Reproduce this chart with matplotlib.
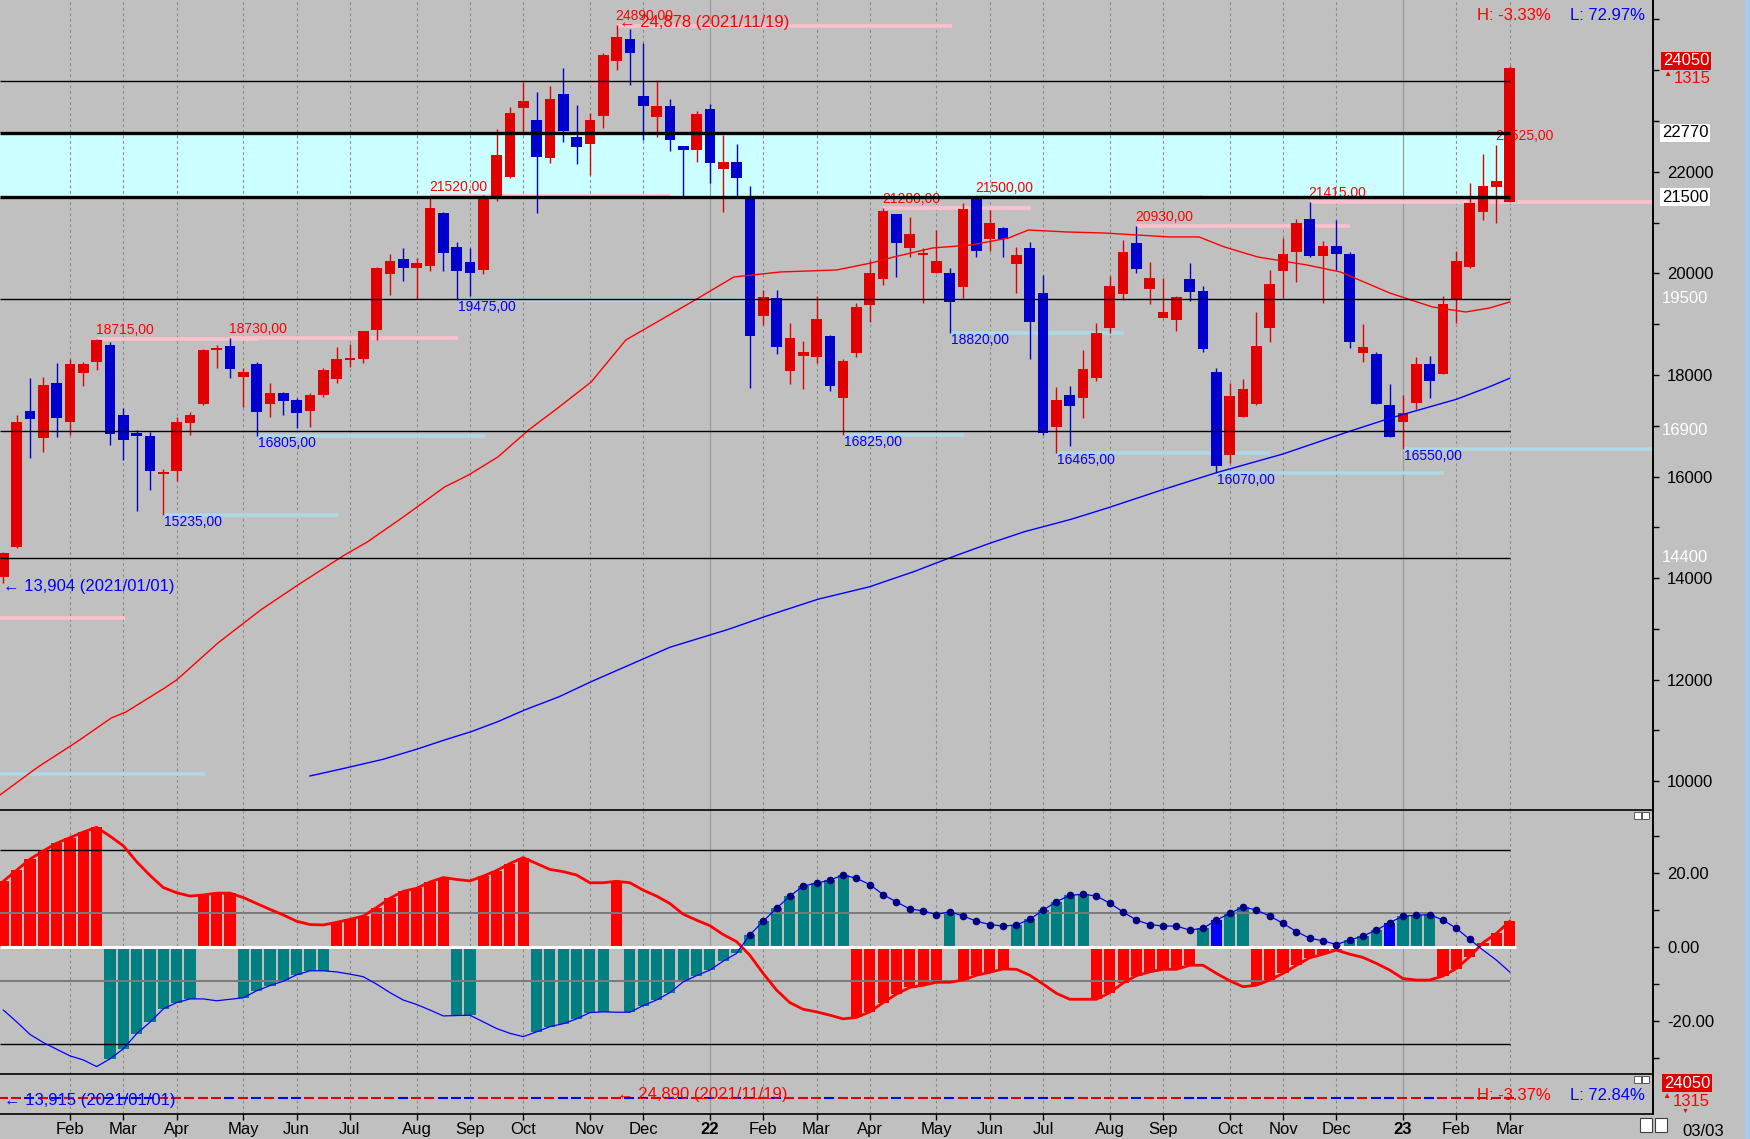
import matplotlib
matplotlib.use('Agg')
import matplotlib.pyplot as plt
from matplotlib.patches import Rectangle
import numpy as np
import pandas as pd

plt.rcParams['font.family'] = ['Liberation Sans', 'DejaVu Sans']
NARROW = ['Liberation Sans Narrow', 'Liberation Sans', 'DejaVu Sans']

W, H = 1750, 1139
BG = '#c0c0c0'
C_UP, C_DN = '#e00000', '#0000cd'

# weekly candles from 2021-01-01 to 2023-03-03
opens = [14030, 14620, 17290, 16760, 17835, 17080, 18045, 18260, 18590, 17210,
         16850, 16800, 16050, 16115, 17060, 17430, 18495, 18570, 17965, 18215,
         17430, 17640, 17505, 17295, 17605, 17920, 18295, 18315, 18885, 19990,
         20285, 20110, 20145, 21195, 20520, 20225, 20065, 21465, 21895, 23260,
         23020, 22275, 23530, 22685, 22555, 23090, 24185, 24610, 23490, 23085,
         23295, 22515, 22430, 23235, 22060, 22185, 21465, 19165, 19510, 18085,
         18380, 18360, 18770, 17540, 18440, 19380, 19895, 21170, 20505, 20360,
         20015, 20000, 19740, 21465, 20685, 20890, 20185, 20505, 19610, 16980,
         17600, 17555, 17945, 18915, 19590, 20595, 19695, 19130, 19080, 19885,
         19655, 18065, 16415, 17180, 17430, 18930, 20055, 20415, 21070, 20350,
         20540, 20380, 18440, 18415, 17410, 17080, 17455, 18215, 18020, 19490,
         20130, 21215, 21710, 21415]
highs = [14510, 17210, 17935, 17965, 18230, 18315, 18260, 18715, 18655, 17345,
         16915, 16885, 16145, 17180, 17275, 18510, 18590, 18730, 18135, 18250,
         17835, 17670, 17540, 17640, 18135, 18545, 18605, 18870, 20130, 20380,
         20495, 20300, 21520, 21215, 20620, 20495, 21545, 22845, 23275, 23775,
         23570, 23685, 24045, 23315, 23150, 24335, 24890, 24810, 24535, 23805,
         23430, 22515, 23200, 23335, 22725, 22550, 21720, 19675, 19675, 19030,
         18675, 19560, 18795, 18320, 19425, 20265, 21280, 21170, 21105, 20505,
         20855, 20110, 21380, 21500, 21250, 20920, 20525, 20610, 19960, 17755,
         17775, 18490, 19030, 19950, 20660, 20930, 20220, 19915, 19545, 20210,
         19755, 18130, 17835, 17920, 19245, 20065, 20690, 21065, 21415, 20645,
         21050, 20415, 19005, 18460, 17825, 17605, 18350, 18375, 19560, 20445,
         21785, 22350, 22525, 24080]
lows = [13904, 14600, 16370, 16490, 16785, 16820, 17785, 18100, 16620, 16325,
        15330, 15735, 15235, 15920, 16820, 17400, 18135, 17940, 17375, 16805,
        17165, 17210, 16950, 16980, 17570, 17835, 18165, 18240, 18690, 19575,
        19850, 19495, 20055, 20055, 19475, 19560, 19990, 21425, 21880, 22790,
        21195, 22180, 22595, 22160, 21935, 22855, 24005, 23710, 22625, 22690,
        22415, 21510, 22200, 21785, 21215, 21510, 17750, 18985, 18415, 17815,
        17720, 18230, 17690, 16825, 18350, 19050, 19770, 19935, 20330, 19425,
        20015, 18820, 19510, 20315, 20445, 20315, 19605, 18320, 16810, 16465,
        16605, 17145, 17885, 18820, 19475, 20000, 19395, 19130, 18870, 19455,
        18445, 16070, 16260, 17180, 17410, 18655, 19520, 19835, 20315, 19410,
        20065, 18525, 18260, 17420, 16780, 16550, 17330, 17555, 18020, 19030,
        20100, 21050, 21000, 21400]
closes = [14490, 17080, 17130, 17805, 17160, 18215, 18215, 18690, 16830, 16720,
          16790, 16115, 16095, 17080, 17210, 18490, 18510, 18115, 18055, 17275,
          17640, 17495, 17245, 17605, 18100, 18315, 18335, 18865, 20110, 20245,
          20110, 20205, 21280, 20410, 20055, 20015, 21525, 22330, 23155, 23390,
          22295, 23430, 22800, 22495, 23020, 24300, 24660, 24335, 23300, 23295,
          22625, 22430, 23130, 22180, 22185, 21885, 18775, 19535, 18555, 18730,
          18460, 19100, 17790, 18280, 19345, 20000, 21235, 20605, 20775, 20395,
          20245, 19445, 21270, 20445, 20985, 20685, 20360, 19050, 16850, 17505,
          17395, 18110, 18820, 19755, 20415, 20095, 19915, 19235, 19540, 19640,
          18510, 16215, 17590, 17725, 18580, 19790, 20380, 20985, 20350, 20545,
          20375, 18645, 18545, 17430, 16785, 17245, 18215, 17890, 19395, 20245,
          21380, 21720, 21820, 24050]

# moving averages (week index, price)
ma_red_weeks = [-0.25, 2.6, 5.5, 8.1, 9.2, 12.1, 13.0, 16.1, 19.3, 22.1, 25.6, 27.3,
                29.9, 33.1, 34.9, 37.1, 39.4, 41.4, 44.1, 46.7, 51.9, 54.8, 58.3,
                62.5, 65.1, 66.8, 69.7, 72.6, 75.4, 76.9, 79.8, 82.6, 87.5, 89.7,
                91.6, 94.1, 97.8, 100.3, 104.0, 107.2, 109.7, 111.5, 113.0]
ma_red_vals = [9730, 10281, 10773, 11246, 11364, 11836, 11994, 12722, 13372, 13865,
               14455, 14711, 15184, 15794, 16030, 16385, 16916, 17310, 17862, 18689,
               19477, 19929, 20028, 20067, 20205, 20323, 20500, 20559, 20697, 20854,
               20815, 20795, 20717, 20717, 20520, 20323, 20165, 20028, 19614, 19339,
               19240, 19319, 19437]
ma_blue_weeks = [23.0, 25.6, 28.5, 31.0, 33.1, 35.1, 37.1, 39.1, 41.7, 44.1, 50.0,
                 54.4, 57.1, 61.1, 65.0, 68.3, 70.9, 74.0, 76.6, 80.1, 82.9, 86.9,
                 91.0, 96.0, 100.9, 104.0, 105.3, 109.0, 111.5, 113.0]
ma_blue_vals = [10104, 10256, 10433, 10630, 10813, 10977, 11174, 11403, 11665, 11961,
                12638, 12992, 13240, 13583, 13831, 14127, 14390, 14686, 14914, 15158,
                15387, 15735, 16076, 16444, 16883, 17147, 17245, 17521, 17769, 17935]

# horizontal levels
levels = [23790, 22770, 21500, 19500, 16900, 14400]
level_thick = [False, True, True, False, False, False]
band_lo, band_hi = 21500, 22770

pink_levels = [24878, 18715, 18730, 21520, 21280, 21500, 20930, 21415, 13210]
pink_from = [46, 7, 17, 32, 66, 73, 85, 98, -0.25]
pink_to = [71.2, 19.1, 34.1, 50, 77.1, 90, 101, 123.75, 9.1]
sky_levels = [19475, 16805, 15235, 10144, 16825, 18820, 16465, 16550, 16070]
sky_from = [34, 19, 12, -0.25, 63, 71, 79, 105, 91]
sky_to = [57, 36.1, 25.2, 15.1, 72.1, 84.1, 95, 123.75, 108.1]

high_marks = [(7, 18715), (17, 18730), (32, 21520), (46, 24890), (66, 21280),
              (73, 21500), (85, 20930), (98, 21415), (112, 22525)]
low_marks = [(12, 15235), (19, 16805), (34, 19475), (63, 16825), (71, 18820),
             (79, 16465), (91, 16070), (105, 16550)]

# oscillator panel
osc_red = [17.7, 20.7, 23.7, 25.9, 28.0, 29.5, 31.0, 32.3, 29.9, 27.3,
           23.0, 19.3, 16.0, 14.6, 13.7, 14.0, 14.5, 14.5, 13.3, 11.7,
           10.1, 8.6, 6.9, 6.0, 5.9, 6.6, 7.4, 8.3, 10.6, 13.1,
           15.0, 15.8, 17.5, 18.7, 18.2, 17.8, 19.1, 20.6, 22.5, 24.1,
           22.5, 20.9, 20.3, 19.4, 17.3, 17.3, 17.7, 17.3, 15.3, 13.7,
           11.7, 8.8, 7.2, 5.7, 3.3, 1.4, -2.3, -7.2, -11.7, -15.1,
           -16.9, -17.6, -18.5, -19.5, -19.1, -17.6, -15.1, -12.8, -11.0, -10.4,
           -9.6, -9.6, -9.0, -7.7, -6.9, -6.0, -6.1, -7.7, -10.1, -12.6,
           -14.2, -14.2, -14.2, -12.4, -9.8, -7.8, -6.8, -6.1, -6.1, -5.0,
           -5.0, -7.2, -9.2, -10.8, -10.4, -9.0, -7.2, -5.0, -3.0, -2.0,
           -0.9, -2.0, -2.9, -4.5, -6.3, -8.6, -9.0, -9.0, -7.9, -5.9,
           -2.7, 1.1, 3.6, 6.9]
osc_blue = [-17.1, -20.3, -23.7, -25.9, -27.7, -29.5, -30.6, -32.4, -30.3, -27.6,
            -23.5, -20.4, -16.8, -15.1, -14.1, -14.1, -14.6, -14.2, -13.8, -11.9,
            -10.5, -9.3, -7.6, -6.5, -6.5, -6.8, -7.4, -8.1, -10.1, -12.4,
            -14.4, -15.6, -17.1, -18.7, -18.6, -18.5, -20.3, -22.1, -23.4, -24.3,
            -23.0, -21.6, -20.8, -19.5, -17.8, -17.6, -17.7, -17.7, -15.9, -14.4,
            -12.4, -9.5, -7.8, -6.3, -3.9, -1.8, 3.2, 6.9, 10.4, 13.7,
            16.4, 17.2, 18.0, 19.4, 18.5, 16.8, 14.1, 12.1, 10.2, 9.7,
            8.7, 9.5, 8.3, 6.9, 6.0, 5.6, 5.9, 7.4, 9.9, 12.2,
            13.9, 14.2, 13.7, 11.8, 9.4, 7.2, 6.0, 5.6, 5.6, 4.5,
            5.0, 7.2, 9.0, 10.8, 9.9, 8.3, 6.3, 4.1, 2.3, 1.6,
            0.6, 1.8, 2.9, 4.5, 6.5, 8.3, 8.5, 8.7, 7.2, 5.0,
            2.0, -0.9, -3.6, -6.8]
# which line the bar of each week follows: r = red line, t = blue line (teal), b = blue line (blue)
osc_bar = ('rrrrrrrr' + 'ttttttt' + 'rrr' + 'ttttttt' + 'rrrrrrrrr' + 'tt' + 'rrrr'
           + 'tttttt' + 'r' + 't' * 17 + 'rrrrrrr' + 't' + 'rrrr' + 'tttttt'
           + 'rrrrrrrr' + 't' + 'b' + 'tt' + 'rrrrrrr' + 'ttt' + 'b' + 'ttt' + 'rrrrrr')
osc_levels = [26.1, 9.0, -9.35, -26.4]

n = len(opens)
weeks = np.arange(n)
dates = pd.date_range('2021-01-01', periods=n, freq='7D')
month_pos = [i for i in range(1, n) if dates[i].month != dates[i - 1].month]
month_lab = [str(dates[i].year % 100) if dates[i].month == 1 else dates[i].strftime('%b')
             for i in month_pos]
year_pos = [i for i in month_pos if dates[i].month == 1]

XL = (-0.25, 123.75)
X_END = weeks[-1]

fig = plt.figure(figsize=(W / 100, H / 100), dpi=100, facecolor=BG)


def px_axes(x0, y0, x1, y1):
    return fig.add_axes([x0 / W, 1 - y1 / H, (x1 - x0) / W, (y1 - y0) / H])


def ftext(x, y, s, **kw):
    return fig.text(x / W, 1 - y / H, s, **kw)


def frect(x, y, w, h, **kw):
    fig.patches.append(Rectangle((x / W, 1 - (y + h) / H), w / W, h / H,
                                 transform=fig.transFigure, figure=fig, **kw))


def month_grid(ax):
    for p in month_pos:
        if p in year_pos:
            ax.axvline(p, color='#9a9a9a', lw=0.9, zorder=0.5)
        else:
            ax.axvline(p, color='#8a8a8a', lw=0.8, ls=(0, (2.5, 2.5)), zorder=0.5)


def style(ax):
    ax.set_facecolor(BG)
    ax.set_xlim(*XL)
    for s in ['top', 'left']:
        ax.spines[s].set_visible(False)
    ax.spines['right'].set_linewidth(1.4)
    ax.spines['bottom'].set_linewidth(1.2)
    ax.tick_params(axis='x', which='both', bottom=False, labelbottom=False)
    ax.yaxis.tick_right()


# ---------------- price panel
ax = px_axes(0, 0, 1653, 810)
style(ax)
ax.set_ylim(9434, 25383)
ax.set_yticks(range(10000, 22001, 2000))
ax.set_yticks([11000, 13000, 15000, 17000, 19000, 21000, 23000, 24000, 25000], minor=True)
ax.tick_params(axis='y', which='both', length=4, width=1, labelsize=12, pad=6)
month_grid(ax)

ax.fill_between([XL[0], X_END], band_lo, band_hi, color='#ccffff', lw=0, zorder=0.3)
ax.hlines(pink_levels, pink_from, pink_to, colors='#ffc0cb', lw=2.6, zorder=1.5)
ax.hlines(sky_levels, sky_from, sky_to, colors='#add8e6', lw=2.6, zorder=1.5)

for (wk, p) in high_marks:
    ax.annotate(f'{p},00', (wk, p), xytext=(-1, 9), textcoords='offset pixels',
                color='#ff0000', fontsize=10, family=NARROW, va='center', ha='left', zorder=2)
for (wk, p) in low_marks:
    ax.annotate(f'{p},00', (wk, p), xytext=(1, -7), textcoords='offset pixels',
                color='#0000ff', fontsize=10, family=NARROW, va='center', ha='left', zorder=2)

o, h, l, c = map(np.array, (opens, highs, lows, closes))
col = np.where(c >= o, C_UP, C_DN)
ax.vlines(weeks, l, h, colors=col, lw=1.0, zorder=3)
ax.bar(weeks, np.maximum(np.abs(c - o), 40), bottom=np.minimum(o, c), width=0.8,
       color=col, lw=0, zorder=3.1)

ax.plot(ma_red_weeks, ma_red_vals, color='#ff0000', lw=1.0, zorder=4)
ax.plot(ma_blue_weeks, ma_blue_vals, color='#0000ff', lw=1.0, zorder=4)

for lv, thick in zip(levels, level_thick):
    ax.hlines(lv, XL[0], X_END, colors='black', lw=2.4 if thick else 1.0, zorder=4.5)

ax.annotate('\u2190 24,878 (2021/11/19)', (46, 24878), xytext=(2, 3), textcoords='offset pixels',
            color='#ff0000', fontsize=12, va='center', ha='left', zorder=2)
ax.annotate('\u2190 13,904 (2021/01/01)', (0, lows[0]), xytext=(0, -4), textcoords='offset pixels',
            color='#0000ff', fontsize=12, va='center', ha='left', zorder=2)

# right axis special labels
ytr = ax.get_yaxis_transform()
ax.annotate(f'{closes[-1]}', (1.0, closes[-1]), xycoords=ytr, xytext=(10, 7), textcoords='offset pixels',
            color='white', fontsize=12, va='center', ha='left', annotation_clip=False,
            bbox=dict(boxstyle='square,pad=0.1', fc='#e00000', ec='none'))
chg = closes[-1] - 22735
ax.annotate('\u25b2', (1.0, closes[-1]), xycoords=ytr, xytext=(10, -7), textcoords='offset pixels',
            color='#ff0000', fontsize=6, va='center', ha='left', annotation_clip=False)
ax.annotate(f'{chg}', (1.0, closes[-1]), xycoords=ytr, xytext=(21, -11), textcoords='offset pixels',
            color='#ff0000', fontsize=12, va='center', ha='left', annotation_clip=False)
for lv in [22770, 21500]:
    ax.text(1.0055, lv, f'{lv}', transform=ytr, color='black', fontsize=12, va='center', ha='left',
            bbox=dict(boxstyle='square,pad=0.1', fc='white', ec='none'))
for lv in [19500, 16900, 14400]:
    ax.text(1.0055, lv, f'{lv}', transform=ytr, color='white', fontsize=12, va='center', ha='left')

ftext(1477, 15, 'H: -3.33%', color='#ff0000', fontsize=12, va='center')
ftext(1570, 15, 'L: 72.97%', color='#0000ff', fontsize=12, va='center')

# ---------------- oscillator panel
am = px_axes(0, 811, 1653, 1074)
style(am)
am.set_ylim(-34.4, 36.7)
am.set_yticks([-20, 0, 20])
am.set_yticklabels(['-20.00', '0.00', '20.00'])
am.set_yticks([-30, -10, 10, 30], minor=True)
am.tick_params(axis='y', which='both', length=4, width=1, labelsize=12, pad=6)
month_grid(am)

ored = np.array(osc_red)
oblue = np.array(osc_blue)
bar_val = np.where(np.array(list(osc_bar)) == 'r', ored, oblue)
bar_col = [{'r': '#ff0000', 't': '#008080', 'b': '#0000ff'}[k] for k in osc_bar]
am.bar(weeks, bar_val, width=0.84, color=bar_col, lw=0, zorder=2)
am.hlines(0, XL[0], X_END + 0.45, colors='white', lw=2.2, zorder=2.5)
for lv in osc_levels:
    am.hlines(lv, XL[0], X_END, colors='black' if abs(lv) > 20 else '#7a7a7a',
              lw=1.0 if abs(lv) > 20 else 1.4, zorder=2.6)
am.plot(weeks, ored, color='#ff0000', lw=2.0, zorder=3)
am.plot(weeks, oblue, color='#0000ff', lw=0.9, zorder=3)
pos = oblue > 0
am.plot(weeks[pos], oblue[pos], ls='none', marker='o', ms=4.5, color='#000080', zorder=4)

# ---------------- strip panel
ast = px_axes(0, 1075, 1653, 1114)
style(ast)
ast.set_ylim(0, 1)
ast.set_yticks([])
month_grid(ast)
for i in weeks:
    ast.hlines(0.41, i - 0.42, i + 0.33, colors=C_UP if c[i] >= o[i] else '#0000ff', lw=1.5, zorder=2)
ast.set_xticks(month_pos)
ast.set_xticklabels(month_lab)
ast.tick_params(axis='x', which='both', bottom=True, labelbottom=True, length=4, width=1,
                labelsize=12, pad=2)
for t in ast.get_xticklabels():
    if t.get_text().isdigit():
        t.set_fontweight('bold')

ftext(4, 1100, '\u2190 13,915 (2021/01/01)', color='#0000ff', fontsize=12, va='center')
ftext(617, 1094, '\u2190 24,890 (2021/11/19)', color='#ff0000', fontsize=12, va='center')
ftext(1477, 1095, 'H: -3.37%', color='#ff0000', fontsize=12, va='center')
ftext(1570, 1095, 'L: 72.84%', color='#0000ff', fontsize=12, va='center')
ftext(1664, 1083, f'{closes[-1]}', color='white', fontsize=12, va='center',
      bbox=dict(boxstyle='square,pad=0.1', fc='#e00000', ec='none'))
ftext(1662, 1097, '\u25b2', color='#ff0000', fontsize=6, va='center')
ftext(1673, 1101, f'{chg}', color='#ff0000', fontsize=12, va='center')
ftext(1682, 1111, '\u25bc', color='#ff0000', fontsize=5, va='center')

# window chrome
for y0 in (812, 1076):
    for x0 in (1634, 1642):
        frect(x0, y0, 7, 7, fc='white', ec='#404040', lw=0.6)
frect(1640, 1118, 12, 14, fc='white', ec='#404040', lw=0.8)
frect(1655, 1118, 12, 14, fc='white', ec='#404040', lw=0.8)
ftext(1682, 1131, '03/03', color='black', fontsize=12, va='center')
frect(1745, 0, 5, H, fc='#a6caf0', ec='none')

fig.savefig('out.png', dpi=100, facecolor=BG)
